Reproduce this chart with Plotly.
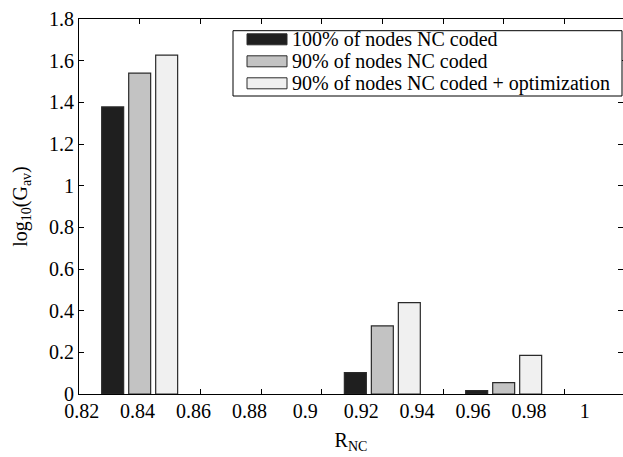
import plotly.graph_objects as go

# Data
group_positions = [1, 5, 7]            # bar group slots on the base axis (ticks 1..8)
series_names = ["100% of nodes NC coded",
                "90% of nodes NC coded",
                "90% of nodes NC coded + optimization"]
vals_100 = [1.378, 0.103, 0.016]
vals_90 = [1.540, 0.327, 0.055]
vals_90_opt = [1.627, 0.439, 0.185]
base_ticks = [1, 2, 3, 4, 5, 6, 7, 8]
x_label_vals = [0.82, 0.84, 0.86, 0.88, 0.90, 0.92, 0.94, 0.96, 0.98, 1.00]
x_label_text = ["0.82", "0.84", "0.86", "0.88", "0.9", "0.92", "0.94", "0.96", "0.98", "1"]

colors = ["#1f1f1f", "#c3c3c3", "#f0f0f0"]
series_vals = [vals_100, vals_90, vals_90_opt]

FONT = "Liberation Serif"
bar_w = 0.362
step = 0.445

fig = go.Figure()
for i, (name, vals, col) in enumerate(zip(series_names, series_vals, colors)):
    fig.add_trace(go.Bar(
        x=group_positions, y=vals, name=name,
        width=bar_w, offset=(i - 1) * step - bar_w / 2,
        marker=dict(color=col, line=dict(color="#2a2a2a", width=1.2)),
        xaxis="x", yaxis="y", showlegend=False,
    ))

# invisible trace to activate the label axis
fig.add_trace(go.Scatter(x=[x_label_vals[0]], y=[0], xaxis="x2", yaxis="y",
                         mode="markers", marker=dict(opacity=0),
                         showlegend=False, hoverinfo="skip"))

# ---- legend box (drawn in paper coordinates, MATLAB style) ----
W, H = 544.0, 375.0          # plot area size in px
L_PX, T_PX = 79.0, 19.0      # plot area left/top in px


def px_x(px):
    return (px - L_PX) / W


def px_y(py):
    return 1 - (py - T_PX) / H


shapes = [dict(type="rect", xref="paper", yref="paper",
               x0=px_x(233), x1=px_x(622), y0=px_y(96), y1=px_y(30.7),
               line=dict(color="black", width=1), fillcolor="white", layer="above")]
annotations = []
for i, (name, col) in enumerate(zip(series_names, colors)):
    cy = 39.3 + 22.0 * i
    shapes.append(dict(type="rect", xref="paper", yref="paper",
                       x0=px_x(247), x1=px_x(287), y0=px_y(cy + 5.5), y1=px_y(cy - 5.5),
                       line=dict(color="#2a2a2a", width=1), fillcolor=col, layer="above"))
    annotations.append(dict(text=name, xref="paper", yref="paper",
                            x=px_x(290), y=px_y(cy), xanchor="left", yanchor="middle",
                            showarrow=False,
                            font=dict(family=FONT, size=20, color="black")))

fig.update_layout(
    width=623, height=457,
    margin=dict(l=79, r=0, t=19, b=63),
    paper_bgcolor="white", plot_bgcolor="white",
    barmode="overlay",
    font=dict(family=FONT, size=20, color="black"),
    xaxis=dict(
        range=[0, 8.967], tickvals=base_ticks, showticklabels=False,
        ticks="inside", ticklen=5, tickcolor="black", tickwidth=1,
        showline=True, linecolor="black", linewidth=1, mirror="ticks",
        showgrid=False, zeroline=False, layer="below traces",
    ),
    xaxis2=dict(
        overlaying="x", side="bottom", anchor="y",
        range=[0.81904, 1.01365], tickvals=x_label_vals, ticktext=x_label_text,
        ticks="", showline=False, showgrid=False, zeroline=False,
        ticklabelstandoff=3,
        tickfont=dict(family=FONT, size=20, color="black"),
        title=dict(text="R<sub>NC</sub>", font=dict(family=FONT, size=20, color="black"),
                   standoff=11),
        automargin=False,
    ),
    yaxis=dict(
        range=[0, 1.8], dtick=0.2, tick0=0,
        ticks="inside", ticklen=5, tickcolor="black", tickwidth=1,
        showline=True, linecolor="black", linewidth=1, mirror="ticks",
        showgrid=False, zeroline=False,
        tickfont=dict(family=FONT, size=20, color="black"),
        title=dict(text="log<sub>10</sub>(G<sub>av</sub>)",
                   font=dict(family=FONT, size=20, color="black"), standoff=16),
        automargin=False,
    ),
    shapes=shapes,
    annotations=annotations,
    showlegend=False,
)

fig.write_html("out.html", config={"displayModeBar": False},
               post_script="document.body.style.margin='0';")
